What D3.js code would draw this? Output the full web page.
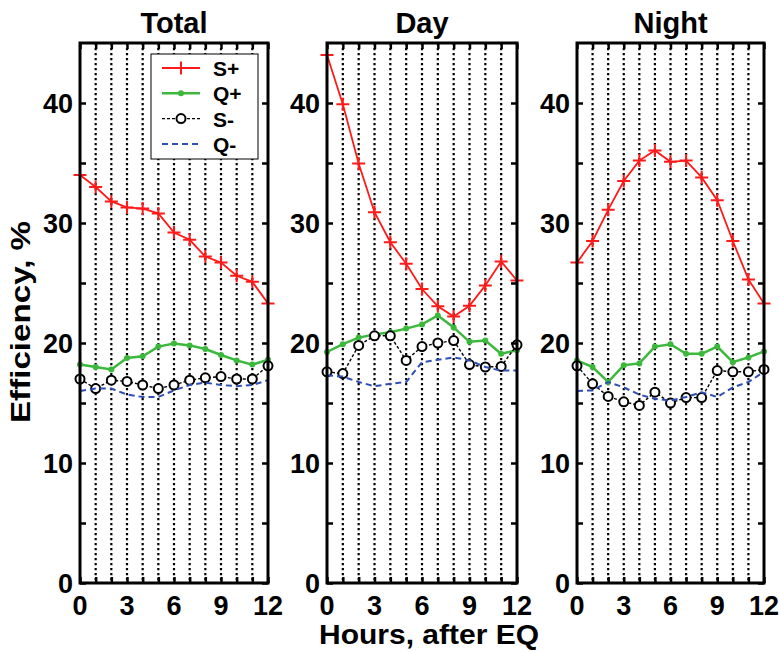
<!DOCTYPE html>
<html>
<head>
<meta charset="utf-8">
<script src="https://cdn.jsdelivr.net/npm/d3@7"></script>
<style>
  body { margin: 0; background: #fff; }
  svg { display: block; }
  text { font-family: "Liberation Sans", Arial, sans-serif; font-weight: bold; fill: #000; }
</style>
</head>
<body>
<svg id="chart" width="780" height="652"></svg>
<script>
// ---------------- data ----------------
const hours = [0,1,2,3,4,5,6,7,8,9,10,11,12];
const xTickLabels = [0,3,6,9,12];
const yTickLabels = [0,10,20,30,40];
const yMinorTicks = [0,5,10,15,20,25,30,35,40];
const panelTitles = ["Total", "Day", "Night"];
const seriesNames = ["S+", "Q+", "S-", "Q-"];

const totalSplus  = [34.0,33.0,31.8,31.3,31.2,30.8,29.2,28.6,27.2,26.7,25.6,25.1,23.3];
const totalQplus  = [18.2,18.0,17.8,18.75,18.9,19.7,19.95,19.8,19.5,19.0,18.55,18.2,18.6];
const totalSminus = [17.0,16.2,16.9,16.8,16.5,16.2,16.5,16.9,17.1,17.2,17.0,17.0,18.1];
const totalQminus = [16.0,16.2,16.2,15.7,15.5,15.5,16.05,16.5,16.7,16.5,16.4,16.5,16.9];

const daySplus  = [44.0,39.9,34.95,30.9,28.4,26.6,24.5,23.06,22.2,23.1,24.8,26.8,25.2];
const dayQplus  = [19.25,19.9,20.45,20.7,20.9,21.2,21.55,22.3,21.3,20.1,20.2,19.1,19.4];
const daySminus = [17.6,17.45,19.8,20.6,20.6,18.55,19.7,20.0,20.2,18.2,18.0,18.05,19.85];
const dayQminus = [17.3,17.2,16.75,16.4,16.6,16.75,18.4,18.6,18.8,18.55,18.0,17.7,17.7];

const nightSplus  = [26.7,28.5,31.1,33.5,35.2,36.05,35.1,35.2,33.8,31.9,28.5,25.3,23.3];
const nightQplus  = [18.55,18.0,16.75,18.15,18.3,19.7,19.9,19.1,19.1,19.7,18.4,18.8,19.3];
const nightSminus = [18.1,16.6,15.55,15.1,14.8,15.9,15.0,15.45,15.45,17.7,17.6,17.6,17.8];
const nightQminus = [16.0,16.05,16.75,16.3,15.7,15.35,15.2,15.5,15.9,15.5,16.3,16.75,17.6];

// ---------------- layout / styles ----------------
const panels = [
  { title: panelTitles[0], x0: 80,  x1: 268, series: [totalSplus, totalQplus, totalSminus, totalQminus], legend: true },
  { title: panelTitles[1], x0: 327, x1: 517, series: [daySplus, dayQplus, daySminus, dayQminus] },
  { title: panelTitles[2], x0: 577, x1: 764, series: [nightSplus, nightQplus, nightSminus, nightQminus] }
];
const plotTop = 43, plotBottom = 583;
const styles = [
  { color: "#ff1a1a", width: 1.8, dash: null,  marker: "plus" },
  { color: "#3cb83c", width: 2.5, dash: null,  marker: "dot" },
  { color: "#000000", width: 1.4, dash: "3,2", marker: "circle" },
  { color: "#2e4fb5", width: 2.0, dash: "6,4", marker: null }
];

const svg = d3.select("#chart");
const y = d3.scaleLinear().domain([0, 45]).range([plotBottom, plotTop]);

function drawMarker(g, type, cx, cy, color) {
  if (type === "plus") {
    g.append("path").attr("d", `M${cx-6.5},${cy}H${cx+6.5}M${cx},${cy-6.5}V${cy+6.5}`)
      .attr("stroke", color).attr("stroke-width", 2).attr("fill", "none");
  } else if (type === "dot") {
    g.append("circle").attr("cx", cx).attr("cy", cy).attr("r", 3).attr("fill", color);
  } else if (type === "circle") {
    g.append("circle").attr("cx", cx).attr("cy", cy).attr("r", 4.5)
      .attr("fill", "#fff").attr("stroke", color).attr("stroke-width", 2);
  }
}

panels.forEach(p => {
  const x = d3.scaleLinear().domain([0, 12]).range([p.x0, p.x1]);
  const g = svg.append("g");

  // dotted vertical grid
  g.selectAll("line.grid").data(hours.filter(h => h > 0 && h < 12)).enter()
    .append("line")
    .attr("x1", d => x(d)).attr("x2", d => x(d))
    .attr("y1", plotTop).attr("y2", plotBottom)
    .attr("stroke", "#000").attr("stroke-width", 2.2).attr("stroke-dasharray", "2.2,2.8");

  // series
  p.series.forEach((vals, i) => {
    const st = styles[i];
    const line = d3.line().x((d, j) => x(hours[j])).y(d => y(d));
    g.append("path").datum(vals).attr("d", line)
      .attr("fill", "none").attr("stroke", st.color).attr("stroke-width", st.width)
      .attr("stroke-dasharray", st.dash);
    if (st.marker) vals.forEach((v, j) => drawMarker(g, st.marker, x(hours[j]), y(v), st.color));
  });

  // axes (inside ticks, box)
  const axB = d3.axisBottom(x).tickValues(hours).tickSize(-6).tickFormat("");
  const axT = d3.axisTop(x).tickValues(hours).tickSize(-6).tickFormat("");
  const axL = d3.axisLeft(y).tickValues(yMinorTicks).tickSize(-6).tickFormat("");
  const axR = d3.axisRight(y).tickValues(yMinorTicks).tickSize(-6).tickFormat("");
  [[axB, `translate(0,${plotBottom})`], [axT, `translate(0,${plotTop})`],
   [axL, `translate(${p.x0},0)`], [axR, `translate(${p.x1},0)`]].forEach(([ax, tr]) => {
    const a = g.append("g").attr("transform", tr).call(ax);
    a.select(".domain").remove();
    a.selectAll(".tick line").attr("stroke", "#000").attr("stroke-width", 2.5);
  });
  g.append("rect").attr("x", p.x0).attr("y", plotTop).attr("width", p.x1 - p.x0).attr("height", plotBottom - plotTop)
    .attr("fill", "none").attr("stroke", "#000").attr("stroke-width", 3);

  // tick labels
  g.selectAll("text.xl").data(xTickLabels).enter().append("text")
    .attr("x", d => x(d)).attr("y", 615).attr("text-anchor", "middle")
    .style("font-size", "27px").text(d => d);
  g.selectAll("text.yl").data(yTickLabels).enter().append("text")
    .attr("x", p.x0 - 7).attr("y", d => y(d) + 9.5).attr("text-anchor", "end")
    .style("font-size", "27px").text(d => d);

  // title
  g.append("text").attr("x", (p.x0 + p.x1) / 2).attr("y", 33).attr("text-anchor", "middle")
    .style("font-size", "29px").text(p.title);

  // legend
  if (p.legend) {
    const lg = g.append("g");
    lg.append("rect").attr("x", 151).attr("y", 54).attr("width", 107).attr("height", 105)
      .attr("fill", "#fff").attr("stroke", "#000").attr("stroke-width", 1);
    seriesNames.forEach((nm, i) => {
      const st = styles[i];
      const ly = 68 + i * 25.3;
      lg.append("line").attr("x1", 162).attr("x2", 200).attr("y1", ly).attr("y2", ly)
        .attr("stroke", st.color).attr("stroke-width", st.width).attr("stroke-dasharray", st.dash);
      if (st.marker) drawMarker(lg, st.marker, 181, ly, st.color);
      lg.append("text").attr("x", 213).attr("y", ly + 8).style("font-size", "21px").text(nm);
    });
  }
});

// axis titles
svg.append("text").attr("x", 429).attr("y", 644).attr("text-anchor", "middle")
  .attr("textLength", 220).attr("lengthAdjust", "spacingAndGlyphs")
  .style("font-size", "28px").text("Hours, after EQ");
svg.append("text").attr("transform", "translate(30,322) rotate(-90)").attr("text-anchor", "middle")
  .attr("textLength", 202).attr("lengthAdjust", "spacingAndGlyphs")
  .style("font-size", "27px").text("Efficiency, %");
</script>
</body>
</html>
